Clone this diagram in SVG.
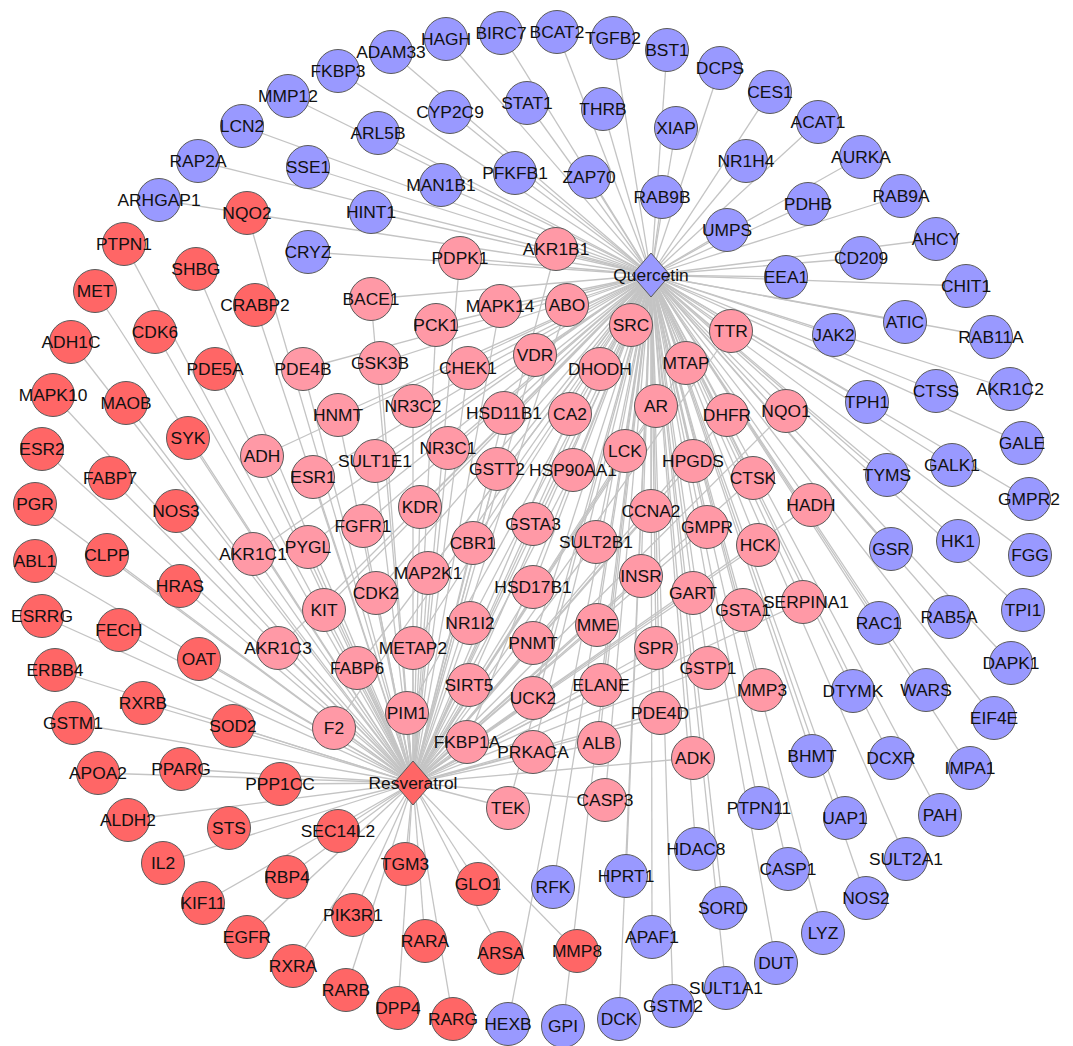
<svg xmlns="http://www.w3.org/2000/svg" width="1073" height="1046" viewBox="0 0 1073 1046">
<style>
.e path{stroke:#c4c4c4;stroke-width:1.3;fill:none}
circle{stroke:#5a5a5a;stroke-width:1}
.b use,.b polygon{fill:#9999ff}
.r use,.r polygon{fill:#ff6666}
.p use{fill:#ff99a6}
polygon{stroke:#5a5a5a;stroke-width:1}
text{font-family:"Liberation Sans",Arial,sans-serif;font-size:17.4px;fill:#111;text-anchor:middle}
</style>
<defs><circle id="c" r="21.5"/></defs>
<rect width="1073" height="1046" fill="#fff"/>
<g class="e" id="connectors">
<path d="M651 275L338 71"/><path d="M651 275L288 96"/><path d="M651 275L242 126"/><path d="M651 275L198 161"/><path d="M651 275L159 200"/><path d="M651 275L308 167"/><path d="M651 275L308 252"/><path d="M651 275L371 212"/><path d="M651 275L391 52"/><path d="M651 275L446 39"/><path d="M651 275L501 33"/><path d="M651 275L557 32"/><path d="M651 275L613 38"/><path d="M651 275L667 50"/><path d="M651 275L720 68"/><path d="M651 275L450 112"/><path d="M651 275L527 103"/><path d="M651 275L603 109"/><path d="M651 275L676 128"/><path d="M651 275L378 133"/><path d="M651 275L441 185"/><path d="M651 275L515 173"/><path d="M651 275L589 177"/><path d="M651 275L662 197"/><path d="M651 275L727 230"/><path d="M651 275L770 92"/><path d="M651 275L746 161"/><path d="M651 275L818 122"/><path d="M651 275L861 157"/><path d="M651 275L808 204"/><path d="M651 275L901 196"/><path d="M651 275L936 239"/><path d="M651 275L861 258"/><path d="M651 275L786 277"/><path d="M651 275L966 286"/><path d="M651 275L905 322"/><path d="M651 275L991 337"/><path d="M651 275L834 335"/><path d="M651 275L867 402"/><path d="M651 275L936 391"/><path d="M651 275L1010 389"/><path d="M651 275L1022 443"/><path d="M651 275L887 475"/><path d="M651 275L952 465"/><path d="M651 275L1029 499"/><path d="M651 275L891 549"/><path d="M651 275L958 541"/><path d="M651 275L1030 555"/><path d="M651 275L1023 610"/><path d="M651 275L879 623"/><path d="M651 275L949 617"/><path d="M651 275L1011 663"/><path d="M651 275L853 691"/><path d="M651 275L926 690"/><path d="M651 275L994 718"/><path d="M651 275L812 756"/><path d="M651 275L891 758"/><path d="M651 275L970 768"/><path d="M651 275L759 808"/><path d="M651 275L845 818"/><path d="M651 275L940 815"/><path d="M651 275L906 859"/><path d="M651 275L788 869"/><path d="M651 275L866 898"/><path d="M651 275L823 933"/><path d="M651 275L776 963"/><path d="M651 275L726 988"/><path d="M651 275L723 908"/><path d="M651 275L696 849"/><path d="M651 275L626 876"/><path d="M651 275L553 887"/><path d="M651 275L652 937"/><path d="M651 275L673 1006"/><path d="M651 275L619 1019"/><path d="M651 275L563 1026"/><path d="M651 275L508 1024"/>
<path d="M413 783L247 213"/><path d="M413 783L124 244"/><path d="M413 783L196 269"/><path d="M413 783L95 291"/><path d="M413 783L255 305"/><path d="M413 783L155 332"/><path d="M413 783L71 342"/><path d="M413 783L215 369"/><path d="M413 783L53 395"/><path d="M413 783L126 403"/><path d="M413 783L188 438"/><path d="M413 783L42 449"/><path d="M413 783L110 478"/><path d="M413 783L176 511"/><path d="M413 783L35 504"/><path d="M413 783L35 561"/><path d="M413 783L107 555"/><path d="M413 783L180 586"/><path d="M413 783L42 616"/><path d="M413 783L119 630"/><path d="M413 783L199 659"/><path d="M413 783L55 670"/><path d="M413 783L143 703"/><path d="M413 783L73 723"/><path d="M413 783L233 726"/><path d="M413 783L98 773"/><path d="M413 783L181 769"/><path d="M413 783L280 784"/><path d="M413 783L128 820"/><path d="M413 783L229 828"/><path d="M413 783L338 831"/><path d="M413 783L163 863"/><path d="M413 783L287 877"/><path d="M413 783L203 903"/><path d="M413 783L353 915"/><path d="M413 783L247 937"/><path d="M413 783L405 864"/><path d="M413 783L478 884"/><path d="M413 783L293 966"/><path d="M413 783L346 990"/><path d="M413 783L425 941"/><path d="M413 783L501 953"/><path d="M413 783L577 951"/><path d="M413 783L398 1008"/><path d="M413 783L453 1019"/>
<path d="M651 275L460 258"/><path d="M651 275L556 249"/><path d="M651 275L371 299"/><path d="M651 275L500 306"/><path d="M651 275L567 305"/><path d="M651 275L436 325"/><path d="M651 275L631 325"/><path d="M651 275L731 331"/><path d="M651 275L380 363"/><path d="M651 275L303 369"/><path d="M651 275L468 368"/><path d="M651 275L535 355"/><path d="M651 275L600 369"/><path d="M651 275L686 363"/><path d="M651 275L338 415"/><path d="M651 275L413 406"/><path d="M651 275L504 413"/><path d="M651 275L570 414"/><path d="M651 275L656 406"/><path d="M651 275L727 415"/><path d="M651 275L786 411"/><path d="M651 275L262 456"/><path d="M651 275L313 477"/><path d="M651 275L375 461"/><path d="M651 275L448 448"/><path d="M651 275L497 469"/><path d="M651 275L573 470"/><path d="M651 275L625 451"/><path d="M651 275L693 461"/><path d="M651 275L753 478"/><path d="M651 275L811 505"/><path d="M651 275L253 554"/><path d="M651 275L308 547"/><path d="M651 275L363 526"/><path d="M651 275L420 507"/><path d="M651 275L473 543"/><path d="M651 275L533 524"/><path d="M651 275L596 542"/><path d="M651 275L651 511"/><path d="M651 275L707 527"/><path d="M651 275L758 545"/><path d="M651 275L324 610"/><path d="M651 275L376 593"/><path d="M651 275L428 573"/><path d="M651 275L533 587"/><path d="M651 275L641 576"/><path d="M651 275L693 593"/><path d="M651 275L743 610"/><path d="M651 275L803 602"/><path d="M651 275L278 648"/><path d="M651 275L357 668"/><path d="M651 275L413 648"/><path d="M651 275L470 623"/><path d="M651 275L533 643"/><path d="M651 275L597 625"/><path d="M651 275L656 648"/><path d="M651 275L708 668"/><path d="M651 275L762 690"/><path d="M651 275L334 728"/><path d="M651 275L407 713"/><path d="M651 275L469 685"/><path d="M651 275L533 698"/><path d="M651 275L601 685"/><path d="M651 275L660 713"/><path d="M651 275L467 742"/><path d="M651 275L533 752"/><path d="M651 275L599 743"/><path d="M651 275L693 758"/><path d="M651 275L508 808"/><path d="M651 275L605 800"/>
<path d="M413 783L460 258"/><path d="M413 783L556 249"/><path d="M413 783L371 299"/><path d="M413 783L500 306"/><path d="M413 783L567 305"/><path d="M413 783L436 325"/><path d="M413 783L631 325"/><path d="M413 783L731 331"/><path d="M413 783L380 363"/><path d="M413 783L303 369"/><path d="M413 783L468 368"/><path d="M413 783L535 355"/><path d="M413 783L600 369"/><path d="M413 783L686 363"/><path d="M413 783L338 415"/><path d="M413 783L413 406"/><path d="M413 783L504 413"/><path d="M413 783L570 414"/><path d="M413 783L656 406"/><path d="M413 783L727 415"/><path d="M413 783L786 411"/><path d="M413 783L262 456"/><path d="M413 783L313 477"/><path d="M413 783L375 461"/><path d="M413 783L448 448"/><path d="M413 783L497 469"/><path d="M413 783L573 470"/><path d="M413 783L625 451"/><path d="M413 783L693 461"/><path d="M413 783L753 478"/><path d="M413 783L811 505"/><path d="M413 783L253 554"/><path d="M413 783L308 547"/><path d="M413 783L363 526"/><path d="M413 783L420 507"/><path d="M413 783L473 543"/><path d="M413 783L533 524"/><path d="M413 783L596 542"/><path d="M413 783L651 511"/><path d="M413 783L707 527"/><path d="M413 783L758 545"/><path d="M413 783L324 610"/><path d="M413 783L376 593"/><path d="M413 783L428 573"/><path d="M413 783L533 587"/><path d="M413 783L641 576"/><path d="M413 783L693 593"/><path d="M413 783L743 610"/><path d="M413 783L803 602"/><path d="M413 783L278 648"/><path d="M413 783L357 668"/><path d="M413 783L413 648"/><path d="M413 783L470 623"/><path d="M413 783L533 643"/><path d="M413 783L597 625"/><path d="M413 783L656 648"/><path d="M413 783L708 668"/><path d="M413 783L762 690"/><path d="M413 783L334 728"/><path d="M413 783L407 713"/><path d="M413 783L469 685"/><path d="M413 783L533 698"/><path d="M413 783L601 685"/><path d="M413 783L660 713"/><path d="M413 783L467 742"/><path d="M413 783L533 752"/><path d="M413 783L599 743"/><path d="M413 783L693 758"/><path d="M413 783L508 808"/><path d="M413 783L605 800"/>
</g>
<g id="nodes">
<g class="b">
<g id="FKBP3"><use href="#c" x="338" y="71"/><text x="338" y="77">FKBP3</text></g>
<g id="MMP12"><use href="#c" x="288" y="96"/><text x="288" y="102">MMP12</text></g>
<g id="LCN2"><use href="#c" x="242" y="126"/><text x="242" y="132">LCN2</text></g>
<g id="RAP2A"><use href="#c" x="198" y="161"/><text x="198" y="167">RAP2A</text></g>
<g id="ARHGAP1"><use href="#c" x="159" y="200"/><text x="159" y="206">ARHGAP1</text></g>
<g id="SSE1"><use href="#c" x="308" y="167"/><text x="308" y="173">SSE1</text></g>
<g id="CRYZ"><use href="#c" x="308" y="252"/><text x="308" y="258">CRYZ</text></g>
<g id="HINT1"><use href="#c" x="371" y="212"/><text x="371" y="218">HINT1</text></g>
<g id="ADAM33"><use href="#c" x="391" y="52"/><text x="391" y="58">ADAM33</text></g>
<g id="HAGH"><use href="#c" x="446" y="39"/><text x="446" y="45">HAGH</text></g>
<g id="BIRC7"><use href="#c" x="501" y="33"/><text x="501" y="39">BIRC7</text></g>
<g id="BCAT2"><use href="#c" x="557" y="32"/><text x="557" y="38">BCAT2</text></g>
<g id="TGFB2"><use href="#c" x="613" y="38"/><text x="613" y="44">TGFB2</text></g>
<g id="BST1"><use href="#c" x="667" y="50"/><text x="667" y="56">BST1</text></g>
<g id="DCPS"><use href="#c" x="720" y="68"/><text x="720" y="74">DCPS</text></g>
<g id="CYP2C9"><use href="#c" x="450" y="112"/><text x="450" y="118">CYP2C9</text></g>
<g id="STAT1"><use href="#c" x="527" y="103"/><text x="527" y="109">STAT1</text></g>
<g id="THRB"><use href="#c" x="603" y="109"/><text x="603" y="115">THRB</text></g>
<g id="XIAP"><use href="#c" x="676" y="128"/><text x="676" y="134">XIAP</text></g>
<g id="ARL5B"><use href="#c" x="378" y="133"/><text x="378" y="139">ARL5B</text></g>
<g id="MAN1B1"><use href="#c" x="441" y="185"/><text x="441" y="191">MAN1B1</text></g>
<g id="PFKFB1"><use href="#c" x="515" y="173"/><text x="515" y="179">PFKFB1</text></g>
<g id="ZAP70"><use href="#c" x="589" y="177"/><text x="589" y="183">ZAP70</text></g>
<g id="RAB9B"><use href="#c" x="662" y="197"/><text x="662" y="203">RAB9B</text></g>
<g id="UMPS"><use href="#c" x="727" y="230"/><text x="727" y="236">UMPS</text></g>
<g id="CES1"><use href="#c" x="770" y="92"/><text x="770" y="98">CES1</text></g>
<g id="NR1H4"><use href="#c" x="746" y="161"/><text x="746" y="167">NR1H4</text></g>
<g id="ACAT1"><use href="#c" x="818" y="122"/><text x="818" y="128">ACAT1</text></g>
<g id="AURKA"><use href="#c" x="861" y="157"/><text x="861" y="163">AURKA</text></g>
<g id="PDHB"><use href="#c" x="808" y="204"/><text x="808" y="210">PDHB</text></g>
<g id="RAB9A"><use href="#c" x="901" y="196"/><text x="901" y="202">RAB9A</text></g>
<g id="AHCY"><use href="#c" x="936" y="239"/><text x="936" y="245">AHCY</text></g>
<g id="CD209"><use href="#c" x="861" y="258"/><text x="861" y="264">CD209</text></g>
<g id="EEA1"><use href="#c" x="786" y="277"/><text x="786" y="283">EEA1</text></g>
<g id="CHIT1"><use href="#c" x="966" y="286"/><text x="966" y="292">CHIT1</text></g>
<g id="ATIC"><use href="#c" x="905" y="322"/><text x="905" y="328">ATIC</text></g>
<g id="RAB11A"><use href="#c" x="991" y="337"/><text x="991" y="343">RAB11A</text></g>
<g id="JAK2"><use href="#c" x="834" y="335"/><text x="834" y="341">JAK2</text></g>
<g id="TPH1"><use href="#c" x="867" y="402"/><text x="867" y="408">TPH1</text></g>
<g id="CTSS"><use href="#c" x="936" y="391"/><text x="936" y="397">CTSS</text></g>
<g id="AKR1C2"><use href="#c" x="1010" y="389"/><text x="1010" y="395">AKR1C2</text></g>
<g id="GALE"><use href="#c" x="1022" y="443"/><text x="1022" y="449">GALE</text></g>
<g id="TYMS"><use href="#c" x="887" y="475"/><text x="887" y="481">TYMS</text></g>
<g id="GALK1"><use href="#c" x="952" y="465"/><text x="952" y="471">GALK1</text></g>
<g id="GMPR2"><use href="#c" x="1029" y="499"/><text x="1029" y="505">GMPR2</text></g>
<g id="GSR"><use href="#c" x="891" y="549"/><text x="891" y="555">GSR</text></g>
<g id="HK1"><use href="#c" x="958" y="541"/><text x="958" y="547">HK1</text></g>
<g id="FGG"><use href="#c" x="1030" y="555"/><text x="1030" y="561">FGG</text></g>
<g id="TPI1"><use href="#c" x="1023" y="610"/><text x="1023" y="616">TPI1</text></g>
<g id="RAC1"><use href="#c" x="879" y="623"/><text x="879" y="629">RAC1</text></g>
<g id="RAB5A"><use href="#c" x="949" y="617"/><text x="949" y="623">RAB5A</text></g>
<g id="DAPK1"><use href="#c" x="1011" y="663"/><text x="1011" y="669">DAPK1</text></g>
<g id="DTYMK"><use href="#c" x="853" y="691"/><text x="853" y="697">DTYMK</text></g>
<g id="WARS"><use href="#c" x="926" y="690"/><text x="926" y="696">WARS</text></g>
<g id="EIF4E"><use href="#c" x="994" y="718"/><text x="994" y="724">EIF4E</text></g>
<g id="BHMT"><use href="#c" x="812" y="756"/><text x="812" y="762">BHMT</text></g>
<g id="DCXR"><use href="#c" x="891" y="758"/><text x="891" y="764">DCXR</text></g>
<g id="IMPA1"><use href="#c" x="970" y="768"/><text x="970" y="774">IMPA1</text></g>
<g id="PTPN11"><use href="#c" x="759" y="808"/><text x="759" y="814">PTPN11</text></g>
<g id="UAP1"><use href="#c" x="845" y="818"/><text x="845" y="824">UAP1</text></g>
<g id="PAH"><use href="#c" x="940" y="815"/><text x="940" y="821">PAH</text></g>
<g id="SULT2A1"><use href="#c" x="906" y="859"/><text x="906" y="865">SULT2A1</text></g>
<g id="CASP1"><use href="#c" x="788" y="869"/><text x="788" y="875">CASP1</text></g>
<g id="NOS2"><use href="#c" x="866" y="898"/><text x="866" y="904">NOS2</text></g>
<g id="LYZ"><use href="#c" x="823" y="933"/><text x="823" y="939">LYZ</text></g>
<g id="DUT"><use href="#c" x="776" y="963"/><text x="776" y="969">DUT</text></g>
<g id="SULT1A1"><use href="#c" x="726" y="988"/><text x="726" y="994">SULT1A1</text></g>
<g id="SORD"><use href="#c" x="723" y="908"/><text x="723" y="914">SORD</text></g>
<g id="HDAC8"><use href="#c" x="696" y="849"/><text x="696" y="855">HDAC8</text></g>
<g id="HPRT1"><use href="#c" x="626" y="876"/><text x="626" y="882">HPRT1</text></g>
<g id="RFK"><use href="#c" x="553" y="887"/><text x="553" y="893">RFK</text></g>
<g id="APAF1"><use href="#c" x="652" y="937"/><text x="652" y="943">APAF1</text></g>
<g id="GSTM2"><use href="#c" x="673" y="1006"/><text x="673" y="1012">GSTM2</text></g>
<g id="DCK"><use href="#c" x="619" y="1019"/><text x="619" y="1025">DCK</text></g>
<g id="GPI"><use href="#c" x="563" y="1026"/><text x="563" y="1032">GPI</text></g>
<g id="HEXB"><use href="#c" x="508" y="1024"/><text x="508" y="1030">HEXB</text></g>
</g>
<g class="r">
<g id="NQO2"><use href="#c" x="247" y="213"/><text x="247" y="219">NQO2</text></g>
<g id="PTPN1"><use href="#c" x="124" y="244"/><text x="124" y="250">PTPN1</text></g>
<g id="SHBG"><use href="#c" x="196" y="269"/><text x="196" y="275">SHBG</text></g>
<g id="MET"><use href="#c" x="95" y="291"/><text x="95" y="297">MET</text></g>
<g id="CRABP2"><use href="#c" x="255" y="305"/><text x="255" y="311">CRABP2</text></g>
<g id="CDK6"><use href="#c" x="155" y="332"/><text x="155" y="338">CDK6</text></g>
<g id="ADH1C"><use href="#c" x="71" y="342"/><text x="71" y="348">ADH1C</text></g>
<g id="PDE5A"><use href="#c" x="215" y="369"/><text x="215" y="375">PDE5A</text></g>
<g id="MAPK10"><use href="#c" x="53" y="395"/><text x="53" y="401">MAPK10</text></g>
<g id="MAOB"><use href="#c" x="126" y="403"/><text x="126" y="409">MAOB</text></g>
<g id="SYK"><use href="#c" x="188" y="438"/><text x="188" y="444">SYK</text></g>
<g id="ESR2"><use href="#c" x="42" y="449"/><text x="42" y="455">ESR2</text></g>
<g id="FABP7"><use href="#c" x="110" y="478"/><text x="110" y="484">FABP7</text></g>
<g id="NOS3"><use href="#c" x="176" y="511"/><text x="176" y="517">NOS3</text></g>
<g id="PGR"><use href="#c" x="35" y="504"/><text x="35" y="510">PGR</text></g>
<g id="ABL1"><use href="#c" x="35" y="561"/><text x="35" y="567">ABL1</text></g>
<g id="CLPP"><use href="#c" x="107" y="555"/><text x="107" y="561">CLPP</text></g>
<g id="HRAS"><use href="#c" x="180" y="586"/><text x="180" y="592">HRAS</text></g>
<g id="ESRRG"><use href="#c" x="42" y="616"/><text x="42" y="622">ESRRG</text></g>
<g id="FECH"><use href="#c" x="119" y="630"/><text x="119" y="636">FECH</text></g>
<g id="OAT"><use href="#c" x="199" y="659"/><text x="199" y="665">OAT</text></g>
<g id="ERBB4"><use href="#c" x="55" y="670"/><text x="55" y="676">ERBB4</text></g>
<g id="RXRB"><use href="#c" x="143" y="703"/><text x="143" y="709">RXRB</text></g>
<g id="GSTM1"><use href="#c" x="73" y="723"/><text x="73" y="729">GSTM1</text></g>
<g id="SOD2"><use href="#c" x="233" y="726"/><text x="233" y="732">SOD2</text></g>
<g id="APOA2"><use href="#c" x="98" y="773"/><text x="98" y="779">APOA2</text></g>
<g id="PPARG"><use href="#c" x="181" y="769"/><text x="181" y="775">PPARG</text></g>
<g id="PPP1CC"><use href="#c" x="280" y="784"/><text x="280" y="790">PPP1CC</text></g>
<g id="ALDH2"><use href="#c" x="128" y="820"/><text x="128" y="826">ALDH2</text></g>
<g id="STS"><use href="#c" x="229" y="828"/><text x="229" y="834">STS</text></g>
<g id="SEC14L2"><use href="#c" x="338" y="831"/><text x="338" y="837">SEC14L2</text></g>
<g id="IL2"><use href="#c" x="163" y="863"/><text x="163" y="869">IL2</text></g>
<g id="RBP4"><use href="#c" x="287" y="877"/><text x="287" y="883">RBP4</text></g>
<g id="KIF11"><use href="#c" x="203" y="903"/><text x="203" y="909">KIF11</text></g>
<g id="PIK3R1"><use href="#c" x="353" y="915"/><text x="353" y="921">PIK3R1</text></g>
<g id="EGFR"><use href="#c" x="247" y="937"/><text x="247" y="943">EGFR</text></g>
<g id="TGM3"><use href="#c" x="405" y="864"/><text x="405" y="870">TGM3</text></g>
<g id="GLO1"><use href="#c" x="478" y="884"/><text x="478" y="890">GLO1</text></g>
<g id="RXRA"><use href="#c" x="293" y="966"/><text x="293" y="972">RXRA</text></g>
<g id="RARB"><use href="#c" x="346" y="990"/><text x="346" y="996">RARB</text></g>
<g id="RARA"><use href="#c" x="425" y="941"/><text x="425" y="947">RARA</text></g>
<g id="ARSA"><use href="#c" x="501" y="953"/><text x="501" y="959">ARSA</text></g>
<g id="MMP8"><use href="#c" x="577" y="951"/><text x="577" y="957">MMP8</text></g>
<g id="DPP4"><use href="#c" x="398" y="1008"/><text x="398" y="1014">DPP4</text></g>
<g id="RARG"><use href="#c" x="453" y="1019"/><text x="453" y="1025">RARG</text></g>
</g>
<g class="p">
<g id="PDPK1"><use href="#c" x="460" y="258"/><text x="460" y="264">PDPK1</text></g>
<g id="AKR1B1"><use href="#c" x="556" y="249"/><text x="556" y="255">AKR1B1</text></g>
<g id="BACE1"><use href="#c" x="371" y="299"/><text x="371" y="305">BACE1</text></g>
<g id="MAPK14"><use href="#c" x="500" y="306"/><text x="500" y="312">MAPK14</text></g>
<g id="ABO"><use href="#c" x="567" y="305"/><text x="567" y="311">ABO</text></g>
<g id="PCK1"><use href="#c" x="436" y="325"/><text x="436" y="331">PCK1</text></g>
<g id="SRC"><use href="#c" x="631" y="325"/><text x="631" y="331">SRC</text></g>
<g id="TTR"><use href="#c" x="731" y="331"/><text x="731" y="337">TTR</text></g>
<g id="GSK3B"><use href="#c" x="380" y="363"/><text x="380" y="369">GSK3B</text></g>
<g id="PDE4B"><use href="#c" x="303" y="369"/><text x="303" y="375">PDE4B</text></g>
<g id="CHEK1"><use href="#c" x="468" y="368"/><text x="468" y="374">CHEK1</text></g>
<g id="VDR"><use href="#c" x="535" y="355"/><text x="535" y="361">VDR</text></g>
<g id="DHODH"><use href="#c" x="600" y="369"/><text x="600" y="375">DHODH</text></g>
<g id="MTAP"><use href="#c" x="686" y="363"/><text x="686" y="369">MTAP</text></g>
<g id="HNMT"><use href="#c" x="338" y="415"/><text x="338" y="421">HNMT</text></g>
<g id="NR3C2"><use href="#c" x="413" y="406"/><text x="413" y="412">NR3C2</text></g>
<g id="HSD11B1"><use href="#c" x="504" y="413"/><text x="504" y="419">HSD11B1</text></g>
<g id="CA2"><use href="#c" x="570" y="414"/><text x="570" y="420">CA2</text></g>
<g id="AR"><use href="#c" x="656" y="406"/><text x="656" y="412">AR</text></g>
<g id="DHFR"><use href="#c" x="727" y="415"/><text x="727" y="421">DHFR</text></g>
<g id="NQO1"><use href="#c" x="786" y="411"/><text x="786" y="417">NQO1</text></g>
<g id="ADH"><use href="#c" x="262" y="456"/><text x="262" y="462">ADH</text></g>
<g id="ESR1"><use href="#c" x="313" y="477"/><text x="313" y="483">ESR1</text></g>
<g id="SULT1E1"><use href="#c" x="375" y="461"/><text x="375" y="467">SULT1E1</text></g>
<g id="NR3C1"><use href="#c" x="448" y="448"/><text x="448" y="454">NR3C1</text></g>
<g id="GSTT2"><use href="#c" x="497" y="469"/><text x="497" y="475">GSTT2</text></g>
<g id="HSP90AA1"><use href="#c" x="573" y="470"/><text x="573" y="476">HSP90AA1</text></g>
<g id="LCK"><use href="#c" x="625" y="451"/><text x="625" y="457">LCK</text></g>
<g id="HPGDS"><use href="#c" x="693" y="461"/><text x="693" y="467">HPGDS</text></g>
<g id="CTSK"><use href="#c" x="753" y="478"/><text x="753" y="484">CTSK</text></g>
<g id="HADH"><use href="#c" x="811" y="505"/><text x="811" y="511">HADH</text></g>
<g id="AKR1C1"><use href="#c" x="253" y="554"/><text x="253" y="560">AKR1C1</text></g>
<g id="PYGL"><use href="#c" x="308" y="547"/><text x="308" y="553">PYGL</text></g>
<g id="FGFR1"><use href="#c" x="363" y="526"/><text x="363" y="532">FGFR1</text></g>
<g id="KDR"><use href="#c" x="420" y="507"/><text x="420" y="513">KDR</text></g>
<g id="CBR1"><use href="#c" x="473" y="543"/><text x="473" y="549">CBR1</text></g>
<g id="GSTA3"><use href="#c" x="533" y="524"/><text x="533" y="530">GSTA3</text></g>
<g id="SULT2B1"><use href="#c" x="596" y="542"/><text x="596" y="548">SULT2B1</text></g>
<g id="CCNA2"><use href="#c" x="651" y="511"/><text x="651" y="517">CCNA2</text></g>
<g id="GMPR"><use href="#c" x="707" y="527"/><text x="707" y="533">GMPR</text></g>
<g id="HCK"><use href="#c" x="758" y="545"/><text x="758" y="551">HCK</text></g>
<g id="KIT"><use href="#c" x="324" y="610"/><text x="324" y="616">KIT</text></g>
<g id="CDK2"><use href="#c" x="376" y="593"/><text x="376" y="599">CDK2</text></g>
<g id="MAP2K1"><use href="#c" x="428" y="573"/><text x="428" y="579">MAP2K1</text></g>
<g id="HSD17B1"><use href="#c" x="533" y="587"/><text x="533" y="593">HSD17B1</text></g>
<g id="INSR"><use href="#c" x="641" y="576"/><text x="641" y="582">INSR</text></g>
<g id="GART"><use href="#c" x="693" y="593"/><text x="693" y="599">GART</text></g>
<g id="GSTA1"><use href="#c" x="743" y="610"/><text x="743" y="616">GSTA1</text></g>
<g id="SERPINA1"><use href="#c" x="803" y="602"/><text x="806" y="608">SERPINA1</text></g>
<g id="AKR1C3"><use href="#c" x="278" y="648"/><text x="278" y="654">AKR1C3</text></g>
<g id="FABP6"><use href="#c" x="357" y="668"/><text x="357" y="674">FABP6</text></g>
<g id="METAP2"><use href="#c" x="413" y="648"/><text x="413" y="654">METAP2</text></g>
<g id="NR1I2"><use href="#c" x="470" y="623"/><text x="470" y="629">NR1I2</text></g>
<g id="PNMT"><use href="#c" x="533" y="643"/><text x="533" y="649">PNMT</text></g>
<g id="MME"><use href="#c" x="597" y="625"/><text x="597" y="631">MME</text></g>
<g id="SPR"><use href="#c" x="656" y="648"/><text x="656" y="654">SPR</text></g>
<g id="GSTP1"><use href="#c" x="708" y="668"/><text x="708" y="674">GSTP1</text></g>
<g id="MMP3"><use href="#c" x="762" y="690"/><text x="762" y="696">MMP3</text></g>
<g id="F2"><use href="#c" x="334" y="728"/><text x="334" y="734">F2</text></g>
<g id="PIM1"><use href="#c" x="407" y="713"/><text x="407" y="719">PIM1</text></g>
<g id="SIRT5"><use href="#c" x="469" y="685"/><text x="469" y="691">SIRT5</text></g>
<g id="UCK2"><use href="#c" x="533" y="698"/><text x="533" y="704">UCK2</text></g>
<g id="ELANE"><use href="#c" x="601" y="685"/><text x="601" y="691">ELANE</text></g>
<g id="PDE4D"><use href="#c" x="660" y="713"/><text x="660" y="719">PDE4D</text></g>
<g id="FKBP1A"><use href="#c" x="467" y="742"/><text x="467" y="748">FKBP1A</text></g>
<g id="PRKACA"><use href="#c" x="533" y="752"/><text x="533" y="758">PRKACA</text></g>
<g id="ALB"><use href="#c" x="599" y="743"/><text x="599" y="749">ALB</text></g>
<g id="ADK"><use href="#c" x="693" y="758"/><text x="693" y="764">ADK</text></g>
<g id="TEK"><use href="#c" x="508" y="808"/><text x="508" y="814">TEK</text></g>
<g id="CASP3"><use href="#c" x="605" y="800"/><text x="605" y="806">CASP3</text></g>
</g>
<g id="Quercetin" class="b"><polygon points="651,253 670,275 651,297 632,275"/><text x="651" y="281">Quercetin</text></g>
<g id="Resveratrol" class="r"><polygon points="413,761 432,783 413,805 394,783"/><text x="413" y="789">Resveratrol</text></g>
</g>
</svg>
